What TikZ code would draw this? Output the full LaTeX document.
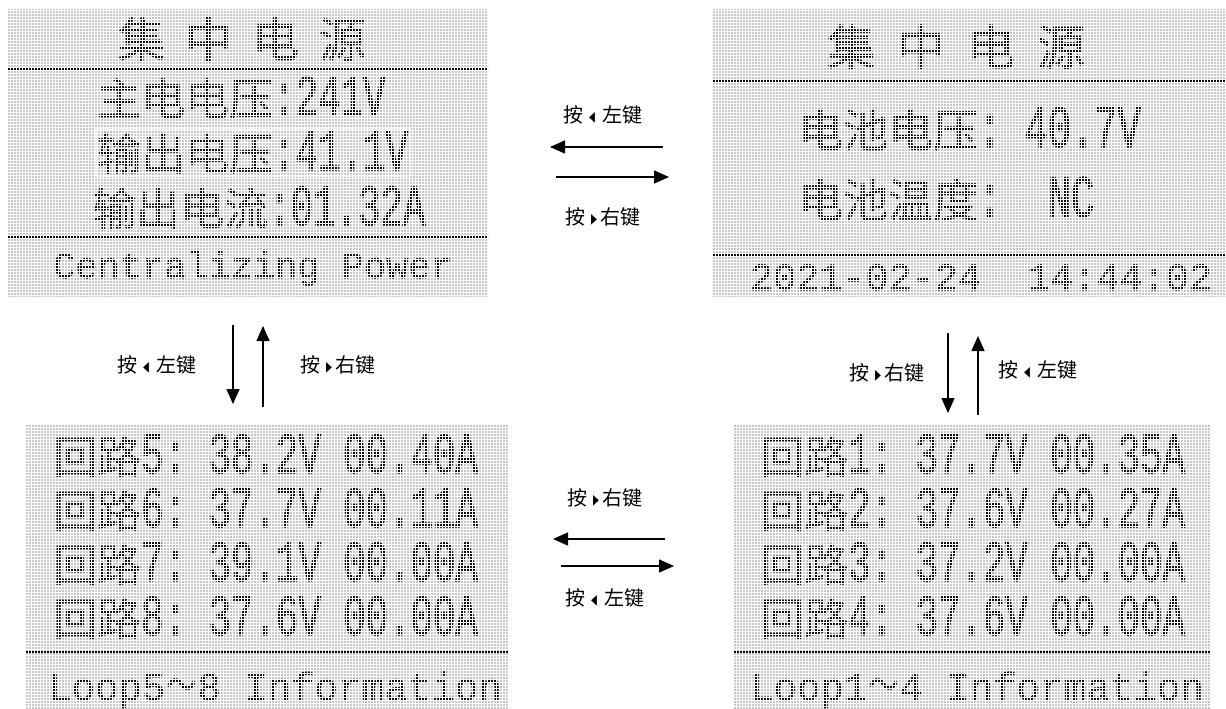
\documentclass[tikz,border=0pt]{standalone}
\usepackage{fontspec}
\usepackage{graphicx}
\usetikzlibrary{arrows.meta}
\newfontfamily\cjkfont{Noto Sans CJK SC}
\newfontfamily\cjkpanel[FakeBold=1.4]{Noto Sans CJK SC}
\newfontfamily\lcdnarrow[FakeStretch=0.645,FakeBold=2]{Liberation Mono}
\newfontfamily\lcdmono[FakeBold=1.6]{Liberation Mono}
\newfontfamily\dvfont{DejaVu Sans}
\definecolor{lcdbg}{RGB}{200,200,200}
\definecolor{ink}{RGB}{10,10,10}
\definecolor{hilite}{RGB}{235,235,235}
\newcommand{\CJ}[2][44]{{\cjkpanel\fontsize{#1}{#1}\selectfont #2}}
\newcommand{\LN}[2][58]{{\lcdnarrow\fontsize{#1}{#1}\selectfont #2}}
\newcommand{\LM}[2][38]{{\lcdmono\fontsize{#1}{#1}\selectfont #2}}
\newcommand{\wave}{\hspace{1pt}\scalebox{0.72}[1]{\cjkpanel\fontsize{42}{42}\selectfont 〜}\hspace{1pt}}
\newcommand{\triL}{{\dvfont\fontsize{14}{14}\selectfont\raisebox{1pt}{\scalebox{0.55}[1]{◀}}}}
\newcommand{\triR}{{\dvfont\fontsize{14}{14}\selectfont\raisebox{1pt}{\scalebox{0.55}[1]{▶}}}}
\newcommand{\keyL}{按\hspace{6pt}\triL\hspace{8pt}左键}
\newcommand{\keyR}{按\hspace{6pt}\triR\hspace{4pt}右键}
\tikzset{
  panel/.style={fill=lcdbg, draw=none, inner sep=0},
  gl/.style={white, line width=1pt},
  sep/.style={ink, line width=2pt, dash pattern=on 2pt off 1pt},
  row/.style={inner sep=0, text=ink, anchor=base west},
  title/.style={inner sep=0, text=ink, anchor=base},
  keylbl/.style={inner sep=0, text=black, font=\cjkfont\fontsize{20}{20}\selectfont},
  arr/.style={black, line width=1.3pt, -{Triangle[length=15pt,width=13pt]}}
}
\begin{document}
\begin{tikzpicture}[x=1pt,y=-1pt]
\useasboundingbox (0,0) rectangle (1226,709);
% panels
\node[panel, minimum width=481pt, minimum height=288pt] (tl) at (247.5,153) {};
\node[panel, minimum width=514pt, minimum height=288pt] (tr) at (969,153) {};
\node[panel, minimum width=482pt, minimum height=284pt] (bl) at (267,567) {};
\node[panel, minimum width=477pt, minimum height=284pt] (br) at (971.5,567) {};
% selection box
\draw[hilite, line width=1.5pt] (96,129) rectangle (410,176);
% top-left panel texts
\node[title] (tlt) at (242,57) {\CJ[47]{集\hspace{20pt}中\hspace{20pt}电\hspace{20pt}源}};
\node[row] (tl1) at (97,115) {\CJ{主电电压}\LN{:241V}};
\node[row] (tl2) at (97,170) {\CJ{输出电压}\LN{:41.1V}};
\node[row] (tl3) at (92,225) {\CJ{输出电流}\LN{:01.32A}};
\node[title] (tlb) at (253,278) {\LM[37]{Centralizing Power}};
% top-right panel texts
\node[title] (trt) at (956,65) {\CJ[48]{集\hspace{22pt}中\hspace{22pt}电\hspace{22pt}源}};
\node[row] (tr1) at (798,147) {\CJ[45]{电池电压}\LN[60]{:\ 40.7V}};
\node[row] (tr2) at (798,217) {\CJ[45]{电池温度}\LN[60]{:\ \ NC}};
\node[title] (trb) at (981,290) {\LM[38.5]{2021-02-24\ \ 14:44:02}};
% bottom-left panel texts
\node[row] (bl1) at (53,473) {\CJ{回路}\LN{5:\ 38.2V 00.40A}};
\node[row] (bl2) at (53,527) {\CJ{回路}\LN{6:\ 37.7V 00.11A}};
\node[row] (bl3) at (53,581) {\CJ{回路}\LN{7:\ 39.1V 00.00A}};
\node[row] (bl4) at (53,635) {\CJ{回路}\LN{8:\ 37.6V 00.00A}};
\node[title] (blb) at (275,700) {\LM[39]{Loop5\wave 8 Information}};
% bottom-right panel texts
\node[row] (br1) at (760,473) {\CJ{回路}\LN{1:\ 37.7V 00.35A}};
\node[row] (br2) at (760,527) {\CJ{回路}\LN{2:\ 37.6V 00.27A}};
\node[row] (br3) at (760,581) {\CJ{回路}\LN{3:\ 37.2V 00.00A}};
\node[row] (br4) at (760,635) {\CJ{回路}\LN{4:\ 37.6V 00.00A}};
\node[title] (brb) at (977,700) {\LM[39]{Loop1\wave 4 Information}};
% pixel grid over the panels (dot-matrix look)
\begin{scope}
\clip (7,9) rectangle (488,297) (712,9) rectangle (1226,297)
      (26,425) rectangle (508,709) (733,425) rectangle (1210,709);
\foreach \g in {1.5,4.5,...,1226} \draw[gl] (\g,0) -- (\g,709);
\foreach \g in {1.5,4.5,...,709} \draw[gl] (0,\g) -- (1226,\g);
\end{scope}
% separators (dotted rows of pixels)
\draw[sep] (8,69) -- (488,69);
\draw[sep] (8,237) -- (488,237);
\draw[sep] (713,81) -- (1226,81);
\draw[sep] (713,255) -- (1226,255);
\draw[sep] (26,652) -- (508,652);
\draw[sep] (734,652) -- (1210,652);
% key labels
\node[keylbl] (k1) at (603,115) {\keyL};
\node[keylbl] (k2) at (603,217) {\keyR};
\node[keylbl] (k3) at (157,365) {\keyL};
\node[keylbl] (k4) at (338,365) {\keyR};
\node[keylbl] (k5) at (887,373) {\keyR};
\node[keylbl] (k6) at (1038,370) {\keyL};
\node[keylbl] (k7) at (605,498) {\keyR};
\node[keylbl] (k8) at (605,598) {\keyL};
% arrow end points
\coordinate (a1s) at (663,147); \coordinate (a1e) at (550,147);
\coordinate (a2s) at (556,177); \coordinate (a2e) at (669,177);
\coordinate (a3s) at (233,325); \coordinate (a3e) at (233,404);
\coordinate (a4s) at (263,407); \coordinate (a4e) at (263,326);
\coordinate (a5s) at (948,333); \coordinate (a5e) at (948,413);
\coordinate (a6s) at (978,415); \coordinate (a6e) at (978,336);
\coordinate (a7s) at (665,539); \coordinate (a7e) at (553,539);
\coordinate (a8s) at (561,566); \coordinate (a8e) at (674,566);
\draw[arr] (a1s) -- (a1e);
\draw[arr] (a2s) -- (a2e);
\draw[arr] (a3s) -- (a3e);
\draw[arr] (a4s) -- (a4e);
\draw[arr] (a5s) -- (a5e);
\draw[arr] (a6s) -- (a6e);
\draw[arr] (a7s) -- (a7e);
\draw[arr] (a8s) -- (a8e);
\end{tikzpicture}
\end{document}
